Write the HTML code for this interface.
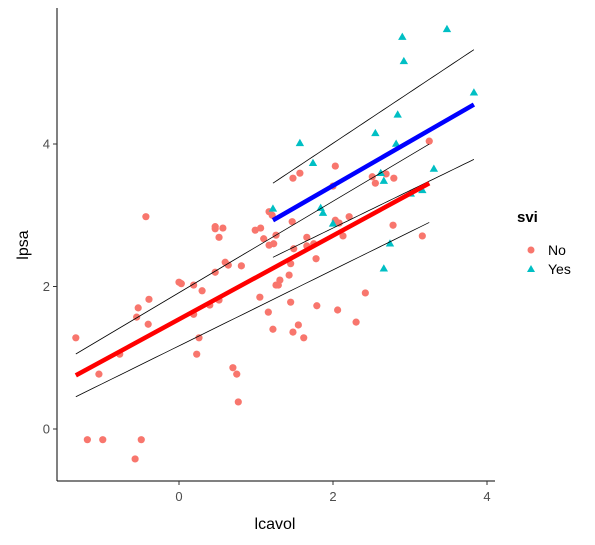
<!DOCTYPE html>
<html><head><meta charset="utf-8">
<style>
body{margin:0;background:#fff;}
svg{display:block;font-family:"Liberation Sans",sans-serif;}
</style></head>
<body>
<svg id="chart" width="595" height="545" viewBox="0 0 595 545">
  <g id="plot"></g>
  <line x1="57" y1="8" x2="57" y2="481" stroke="#000" stroke-width="1"/>
  <line x1="57" y1="481" x2="495" y2="481" stroke="#000" stroke-width="1"/>
  <g id="axes"></g>
  <text x="275" y="529" text-anchor="middle" font-size="16" fill="#000">lcavol</text>
  <text x="28" y="245" text-anchor="middle" font-size="16" fill="#000" transform="rotate(-90 28 245)">lpsa</text>
  <g>
    <text x="517" y="222" font-size="15" font-weight="bold" fill="#000">svi</text>
    <circle cx="531" cy="250" r="3.5" fill="#F8766D"/>
    <text x="548" y="255" font-size="14" fill="#000">No</text>
    <polygon points="531,265 535,272 527,272" fill="#00BFC4"/>
    <text x="548" y="274" font-size="14" fill="#000">Yes</text>
  </g>
</svg>
<script>
const noX = [-1.34,-1.19,-1.04,-0.99,-0.77,-0.57,-0.55,-0.53,-0.49,-0.43,-0.40,-0.39,0.00,0.03,0.19,0.19,0.23,0.26,0.30,0.40,0.47,0.47,0.47,0.52,0.52,0.57,0.60,0.64,0.70,0.75,0.77,0.81,0.99,1.05,1.06,1.10,1.16,1.17,1.17,1.21,1.22,1.23,1.26,1.26,1.29,1.31,1.43,1.45,1.45,1.47,1.48,1.48,1.49,1.55,1.57,1.62,1.66,1.66,1.75,1.78,1.79,2.00,2.03,2.03,2.06,2.08,2.13,2.21,2.30,2.42,2.51,2.55,2.69,2.78,2.79,3.16,3.25];
const noY = [1.28,-0.15,0.77,-0.15,1.05,-0.42,1.57,1.70,-0.15,2.98,1.47,1.82,2.06,2.04,2.02,1.61,1.05,1.28,1.94,1.74,2.84,2.81,2.20,2.69,1.81,2.82,2.34,2.30,0.86,0.77,0.38,2.29,2.79,1.85,2.82,2.67,1.64,3.05,2.58,3.00,1.40,2.60,2.72,2.02,2.02,2.09,2.16,2.32,1.78,2.91,3.52,1.36,2.53,1.46,3.59,1.28,2.69,2.57,2.60,2.39,1.73,3.41,3.69,2.93,1.67,2.89,2.71,2.98,1.50,1.91,3.54,3.45,3.58,2.86,3.52,2.71,4.04];
const yesX = [1.22,1.57,1.74,1.84,1.87,2.00,2.55,2.62,2.66,2.66,2.74,2.82,2.84,2.90,2.92,3.01,3.16,3.31,3.48,3.83];
const yesY = [3.09,4.01,3.73,3.10,3.03,2.88,4.15,3.59,3.48,2.25,2.60,4.00,4.41,5.50,5.16,3.30,3.35,3.65,5.61,4.72];
// band half-widths (lpsa units) at the start and end of each group's x range
const noBand = [0.30, 0.55];
const yesBand = [0.52, 0.77];
const xTicks = [0,2,4];
const yTicks = [0,2,4];

const NS = "http://www.w3.org/2000/svg";
const sx = v => 179 + 77 * v;
const sy = v => 429 - 71.25 * v;
const plot = document.getElementById('plot');
const axes = document.getElementById('axes');
function mk(tag, attrs, parent) {
  const e = document.createElementNS(NS, tag);
  for (const k in attrs) e.setAttribute(k, attrs[k]);
  parent.appendChild(e);
  return e;
}
xTicks.forEach(t => {
  const l = mk('line', {x1: sx(t), x2: sx(t), y1: 481, y2: 485, stroke: '#333'}, axes);
  
  
  const tx = mk('text', {x: sx(t), y: 501, 'text-anchor': 'middle', 'font-size': 13, fill: '#4d4d4d'}, axes);
  tx.textContent = t;
  
  
});
yTicks.forEach(t => {
  const l = mk('line', {x1: 53, x2: 57, y1: sy(t), y2: sy(t), stroke: '#333'}, axes);
  
  
  const tx = mk('text', {x: 50, y: sy(t) + 4.5, 'text-anchor': 'end', 'font-size': 13, fill: '#4d4d4d'}, axes);
  tx.textContent = t;
  
  
});

function fit(xs, ys) {
  const n = xs.length;
  const mx = xs.reduce((a, b) => a + b, 0) / n;
  const my = ys.reduce((a, b) => a + b, 0) / n;
  let sxx = 0, sxy = 0;
  for (let i = 0; i < n; i++) { sxx += (xs[i]-mx)**2; sxy += (xs[i]-mx)*(ys[i]-my); }
  const b = sxy / sxx, a = my - b * mx;
  return {a, b, lo: Math.min(...xs), hi: Math.max(...xs)};
}
function drawFit(f, band, color, name) {
  const steps = 40;
  let up = [], dn = [];
  for (let i = 0; i <= steps; i++) {
    const x = f.lo + (f.hi - f.lo) * i / steps;
    const y = f.a + f.b * x;
    const w = band[0] + (band[1] - band[0]) * i / steps;
    up.push(sx(x).toFixed(2) + ',' + sy(y + w).toFixed(2));
    dn.push(sx(x).toFixed(2) + ',' + sy(y - w).toFixed(2));
  }
  const u = mk('polyline', {points: up.join(' '), fill: 'none', stroke: '#000', 'stroke-width': 0.8}, plot);
  
  
  const d = mk('polyline', {points: dn.join(' '), fill: 'none', stroke: '#000', 'stroke-width': 0.8}, plot);
  
  
  return () => {
    const l = mk('line', {x1: sx(f.lo), y1: sy(f.a + f.b*f.lo), x2: sx(f.hi), y2: sy(f.a + f.b*f.hi), stroke: color, 'stroke-width': 4.5}, plot);
    
    
  };
}
noX.forEach((x, i) => {
  const c = mk('circle', {cx: sx(x), cy: sy(noY[i]), r: 3.6, fill: '#F8766D'}, plot);
  
  
});
yesX.forEach((x, i) => {
  const px = sx(x), py = sy(yesY[i]);
  const p = mk('polygon', {points: `${px},${py-4.5} ${px+4.2},${py+2.8} ${px-4.2},${py+2.8}`, fill: '#00BFC4'}, plot);
  
  
});
const lineNo = drawFit(fit(noX, noY), noBand, '#FF0000', 'svi-no');
const lineYes = drawFit(fit(yesX, yesY), yesBand, '#0000FF', 'svi-yes');
lineNo();
lineYes();
</script>
</body></html>
